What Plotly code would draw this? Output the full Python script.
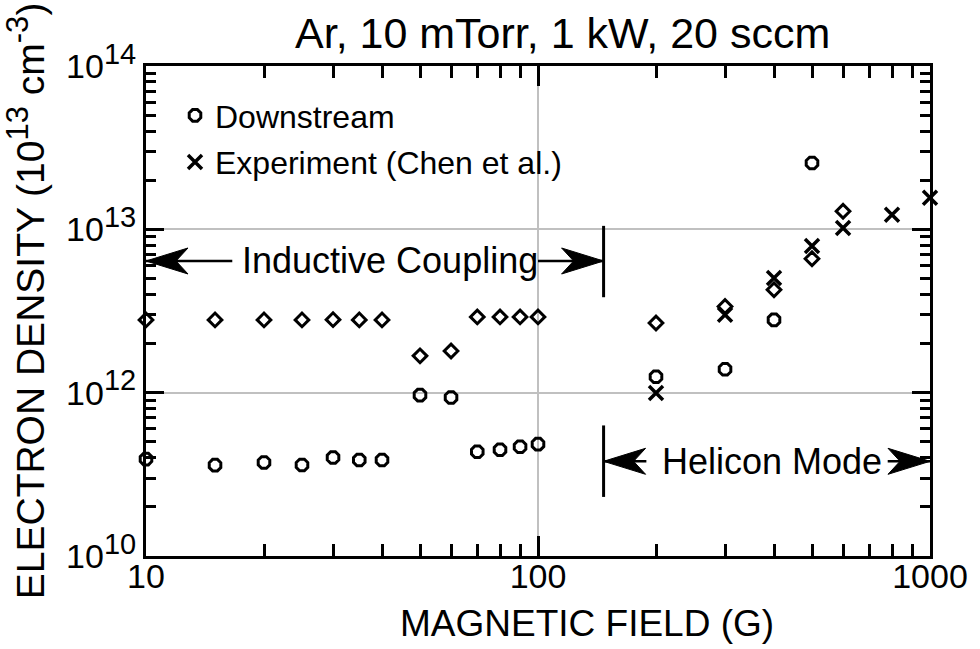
import math
import plotly.graph_objects as go

# ---------------- data ----------------
field_diamond = [10, 15, 20, 25, 30, 35, 40, 50, 60, 70, 80, 90, 100, 200, 300, 400, 500, 600]
density_diamond = [2.79e12, 2.79e12, 2.79e12, 2.79e12, 2.80e12, 2.79e12, 2.79e12, 1.68e12, 1.80e12,
                   2.91e12, 2.91e12, 2.91e12, 2.91e12, 2.67e12, 3.37e12, 4.27e12, 6.6e12, 1.29e13]

field_down = [10, 15, 20, 25, 30, 35, 40, 50, 60, 70, 80, 90, 100, 200, 300, 400, 500]
density_down = [3.92e11, 3.60e11, 3.74e11, 3.61e11, 4.01e11, 3.87e11, 3.87e11, 9.66e11, 9.35e11,
                4.35e11, 4.47e11, 4.66e11, 4.84e11, 1.25e12, 1.39e12, 2.79e12, 2.55e13]

field_exp = [200, 300, 400, 500, 600, 800, 1000]
density_exp = [9.95e11, 3.0e12, 5.04e12, 7.9e12, 1.02e13, 1.23e13, 1.56e13]

SUP = "<sup><span style='font-size:29px'>{}</span></sup>"
x_tickvals = [10, 100, 1000]
x_ticktext = ["10", "100", "1000"]
y_tickvals = [1e11, 1e12, 1e13, 1e14]
y_ticktext = ["10" + SUP.format(e) for e in ("10", "12", "13", "14")]

title_text = "Ar, 10 mTorr, 1 kW, 20 sccm"
x_title = "MAGNETIC FIELD (G)"
y_title = ("ELECTRON DENSITY (10<sup><span style='font-size:31px'>13</span></sup> cm"
           "<sup><span style='font-size:31px'>-3</span></sup>)")

# regime annotation positions (data units)
boundary_field = 147
inductive_y = 6.4e12
helicon_y = 3.8e11

FONT = "Arial, 'Liberation Sans', Helvetica, sans-serif"

fig = go.Figure()

fig.add_trace(go.Scatter(
    x=field_diamond, y=density_diamond, mode="markers", name="Upstream",
    showlegend=False, cliponaxis=False,
    marker=dict(symbol="diamond-open", size=10.5, color="black", line=dict(width=3, color="black")),
))
fig.add_trace(go.Scatter(
    x=field_down, y=density_down, mode="markers", name="Downstream",
    legendgroup="a", cliponaxis=False,
    marker=dict(symbol="octagon-open", size=12.5, color="black", line=dict(width=3, color="black")),
))
fig.add_trace(go.Scatter(
    x=field_exp, y=density_exp, mode="markers", name="Experiment (Chen et al.)",
    legendgroup="b", cliponaxis=False,
    marker=dict(symbol="x-thin-open", size=14, color="black", line=dict(width=3.5, color="black")),
))


def head(x, y, direction):
    s = 1 if direction == "left" else -1
    path = f"M0,0 L{42*s},13 L{30*s},0 L{42*s},-13 Z"
    return dict(type="path", xref="x", yref="y", xsizemode="pixel", ysizemode="pixel",
                xanchor=x, yanchor=y, path=path, fillcolor="black",
                line=dict(color="black", width=1), layer="above")


shapes = []
# Inductive coupling arrow
shapes.append(dict(type="line", xref="x", yref="y", x0=10, x1=16.6, y0=inductive_y, y1=inductive_y,
                   line=dict(color="black", width=2.5)))
shapes.append(dict(type="line", xref="x", yref="y", x0=100, x1=boundary_field, y0=inductive_y, y1=inductive_y,
                   line=dict(color="black", width=2.5)))
shapes.append(head(10, inductive_y, "left"))
shapes.append(head(boundary_field, inductive_y, "right"))
shapes.append(dict(type="line", xref="x", yref="y", x0=boundary_field, x1=boundary_field,
                   y0=3.84e12, y1=1.05e13, line=dict(color="black", width=3)))
# Helicon arrow
shapes.append(dict(type="line", xref="x", yref="y", x0=boundary_field, x1=189, y0=helicon_y, y1=helicon_y,
                   line=dict(color="black", width=2.5)))
shapes.append(dict(type="line", xref="x", yref="y", x0=780, x1=1000, y0=helicon_y, y1=helicon_y,
                   line=dict(color="black", width=2.5)))
shapes.append(head(boundary_field, helicon_y, "left"))
shapes.append(head(1000, helicon_y, "right"))
shapes.append(dict(type="line", xref="x", yref="y", x0=boundary_field, x1=boundary_field,
                   y0=2.3e11, y1=6.3e11, line=dict(color="black", width=3)))

annotations = [
    dict(text="Inductive Coupling", x=math.log10(41.8), y=math.log10(inductive_y), xref="x", yref="y",
         showarrow=False, font=dict(family=FONT, size=36, color="black"), xanchor="center", yanchor="middle"),
    dict(text="Helicon Mode", x=math.log10(395), y=math.log10(helicon_y), xref="x", yref="y",
         showarrow=False, font=dict(family=FONT, size=36, color="black"), xanchor="center", yanchor="middle"),
    # title
    dict(text=title_text, x=0.531, y=1.068, xref="paper", yref="paper", showarrow=False,
         font=dict(family=FONT, size=43, color="black"), xanchor="center", yanchor="middle"),
    # x-axis title
    dict(text=x_title, x=0.563, y=-0.137, xref="paper", yref="paper", showarrow=False,
         font=dict(family=FONT, size=37, color="black"), xanchor="center", yanchor="middle"),
    # y-axis title
    dict(text=y_title, x=-0.153, y=0.52, xref="paper", yref="paper", showarrow=False, textangle=-90,
         font=dict(family=FONT, size=39, color="black"), xanchor="center", yanchor="middle"),
]

x_minor = [m * d for d in (10, 100) for m in range(2, 10)]
y_minor = [m * d for d in (1e11, 1e12, 1e13) for m in range(2, 10)]

fig.update_layout(
    width=980, height=649,
    margin=dict(l=146, r=42, t=66, b=93),
    paper_bgcolor="white", plot_bgcolor="white",
    font=dict(family=FONT, color="black"),
    shapes=shapes, annotations=annotations,
    showlegend=True,
    legend=dict(x=0.037, y=0.955, xanchor="left", yanchor="top", bgcolor="rgba(0,0,0,0)",
                font=dict(family=FONT, size=32, color="black"), tracegroupgap=2),
    xaxis=dict(type="log", range=[1, 3], tickmode="array", tickvals=x_tickvals, ticktext=x_ticktext,
               ticks="inside", ticklen=20, tickwidth=3, tickcolor="black",
               showline=True, linewidth=3, linecolor="black", mirror="ticks",
               showgrid=True, gridcolor="#c0c0c0", gridwidth=2, zeroline=False,
               tickfont=dict(family=FONT, size=34, color="black"), ticklabelstandoff=-12,
               minor=dict(tickvals=x_minor, ticks="inside", ticklen=12, tickwidth=3,
                          tickcolor="black", showgrid=False)),
    yaxis=dict(type="log", range=[11, 14], tickmode="array", tickvals=y_tickvals, ticktext=y_ticktext,
               ticks="inside", ticklen=18, tickwidth=3, tickcolor="black",
               showline=True, linewidth=3, linecolor="black", mirror="ticks",
               showgrid=True, gridcolor="#c0c0c0", gridwidth=2, zeroline=False,
               tickfont=dict(family=FONT, size=34, color="black"),
               minor=dict(tickvals=y_minor, ticks="inside", ticklen=10, tickwidth=3,
                          tickcolor="black", showgrid=False)),
)

fig.write_html("out.html")
